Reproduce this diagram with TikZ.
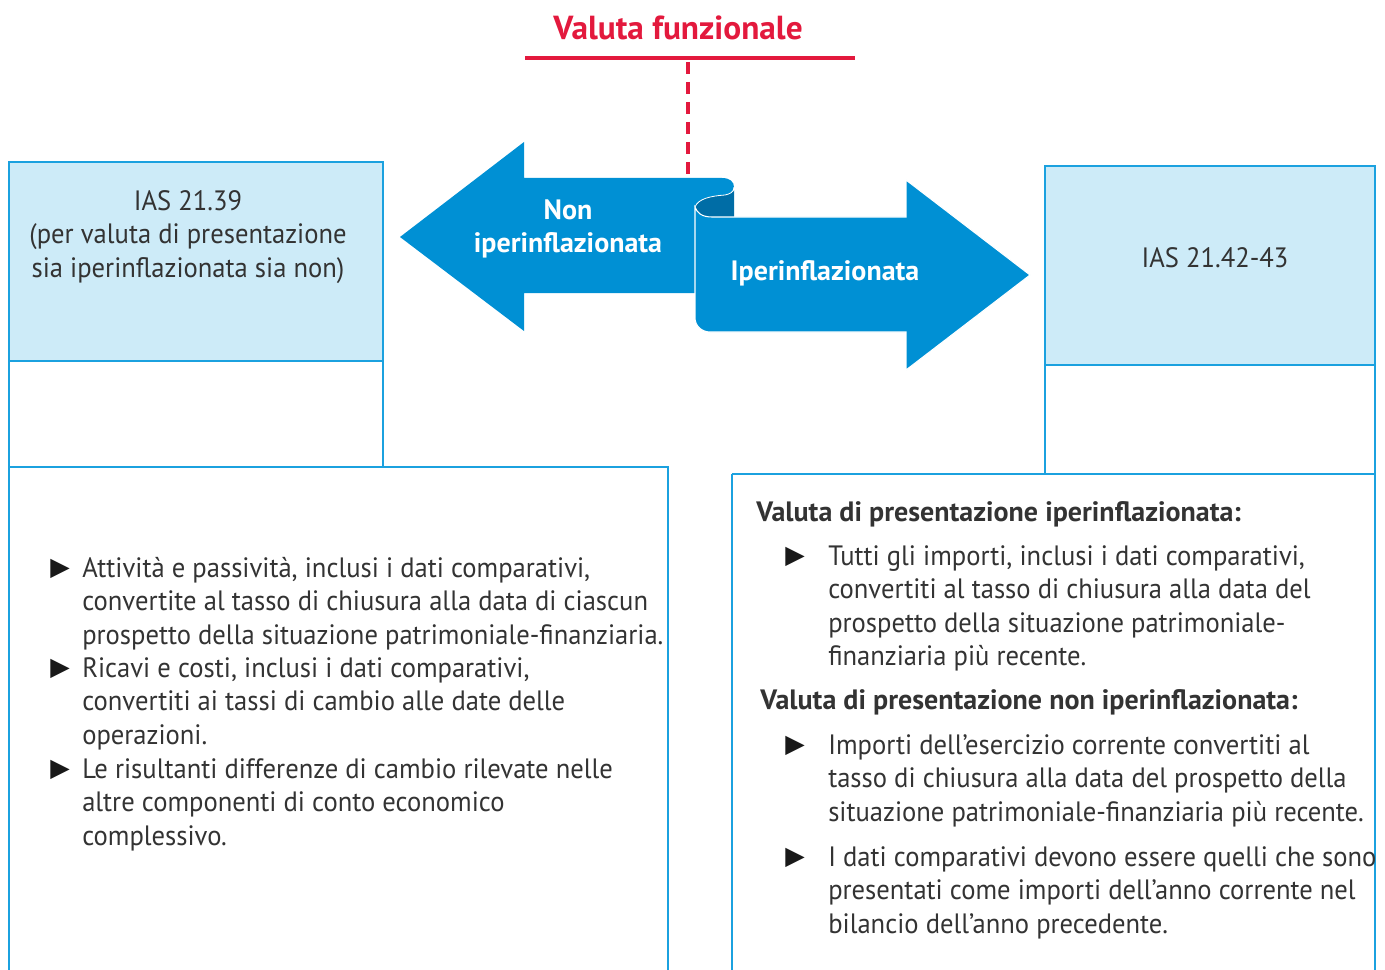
\documentclass[tikz,border=0pt]{standalone}
\usepackage{fontspec}
\setmainfont[FakeStretch=0.95, BoldFeatures={FakeStretch=1.0}]{PT Sans}
\newfontfamily\symfont{DejaVu Sans}
\usetikzlibrary{positioning}

\definecolor{arrowblue}{HTML}{0090D4}
\definecolor{curldark}{HTML}{006DA6}
\definecolor{boxblue}{HTML}{1BA1DF}
\definecolor{lightfill}{HTML}{CDEBF8}
\definecolor{titlered}{HTML}{E3193D}
\definecolor{ink}{HTML}{333333}

\tikzset{
  boxline/.style={draw=boxblue, line width=1.5pt},
  bodytext/.style={inner sep=0pt, text=ink, align=left, font=\fontsize{21}{25.1}\selectfont},
  headtext/.style={inner sep=0pt, text=ink, font=\fontsize{21}{25.1}\selectfont\bfseries},
  arrowtext/.style={inner sep=0pt, text=white, align=center, font=\fontsize{21}{25.1}\selectfont\bfseries},
  bullet/.style={inner sep=0pt, text=black!90, font=\symfont\fontsize{19}{19}\selectfont},
}

\begin{document}
\begin{tikzpicture}[x=0.75pt,y=-0.75pt]
    \useasboundingbox (0,0) rectangle (1385,970);

    % title and red rule
    \node[text=titlered, font=\fontsize{25}{30}\selectfont\bfseries] (title) at (678,28) {Valuta funzionale};
    \coordinate (ruleL) at (525,58);
    \coordinate (ruleR) at (855,58);
    \coordinate (ruleM) at (688,58);
    \coordinate (scroll) at (688,176);
    \draw[titlered, line width=3pt] (ruleL) -- (ruleR);
    \draw[titlered, line width=3pt, dash pattern=on 9pt off 6pt] ([yshift=-3pt]ruleM) -- (scroll);

    % left arrow
    \fill[arrowblue] (400,237) -- (524,142) -- (524,178) -- (722,178)
        .. controls (730,178) and (734,182) .. (734,187)
        .. controls (734,191) and (731,194) .. (725,195)
        .. controls (710,196) and (698,199) .. (695,207)
        -- (695,293) -- (524,293) -- (524,331) -- cycle;
    % inside of the curl
    \fill[curldark] (695,207) .. controls (698,199) and (710,196) .. (725,195)
        .. controls (730,194) and (734,192) .. (734,190) -- (734,217) -- (712,217)
        .. controls (702,217) and (697,213) .. (695,207) -- cycle;
    \draw[white, line width=0.6pt] (695,207) .. controls (698,199) and (710,196) .. (725,195)
        .. controls (730,194) and (734,192) .. (734,187);
    % right arrow
    \draw[white, line width=0.8pt, fill=arrowblue] (695,207)
        .. controls (697,213) and (702,217) .. (712,217) -- (906,217) -- (906,180)
        -- (1030,275) -- (906,370) -- (906,332) -- (710,332)
        .. controls (702,332) and (695,326) .. (695,318) -- cycle;

    \node[arrowtext] (nonip) at (568,229) {Non\\iperinflazionata};
    \node[arrowtext] (ip) at (825,273) {Iperinflazionata};

    % left boxes
    \draw[boxline, fill=lightfill] (9,162) rectangle (383,361);
    \draw[boxline] (9,361) -- (9,975);
    \draw[boxline] (383,361) -- (383,467);
    \draw[boxline] (9,467) -- (668,467) -- (668,975);
    \node[bodytext, align=center] (ias39) at (188,237)
        {IAS 21.39\\(per valuta di presentazione\\sia iperinflazionata sia non)};

    % right boxes
    \draw[boxline, fill=lightfill] (1045,166) rectangle (1375,365);
    \draw[boxline] (1045,365) -- (1045,474);
    \draw[boxline] (1375,365) -- (1375,975);
    \draw[boxline] (732,474) -- (1375,474);
    \draw[boxline] (732,474) -- (732,975);
    \node[bodytext] (ias42) at (1215,258) {IAS 21.42-43};

    % left list
    \node[bodytext, anchor=north west] (att) at (82,557)
        {Attività e passività, inclusi i dati comparativi,\\convertite al tasso di chiusura alla data di ciascun\\prospetto della situazione patrimoniale-finanziaria.};
    \node[bodytext, anchor=north west] (ric) at (82,657)
        {Ricavi e costi, inclusi i dati comparativi,\\convertiti ai tassi di cambio alle date delle\\operazioni.};
    \node[bodytext, anchor=north west] (ris) at (82,758)
        {Le risultanti differenze di cambio rilevate nelle\\altre componenti di conto economico\\complessivo.};
    \node[bullet] at (60,569) {▶};
    \node[bullet] at (60,669) {▶};
    \node[bullet] at (60,770) {▶};

    % right list
    \node[headtext, anchor=west] (hiper) at (756,514) {Valuta di presentazione iperinflazionata:};
    \node[bodytext, anchor=north west] (tutti) at (828,545)
        {Tutti gli importi, inclusi i dati comparativi,\\convertiti al tasso di chiusura alla data del\\prospetto della situazione patrimoniale-\\finanziaria più recente.};
    \node[headtext, anchor=west] (hnon) at (760,702) {Valuta di presentazione non iperinflazionata:};
    \node[bodytext, anchor=north west] (imp) at (828,734)
        {Importi dell'esercizio corrente convertiti al\\tasso di chiusura alla data del prospetto della\\situazione patrimoniale-finanziaria più recente.};
    \node[bodytext, anchor=north west] (dati) at (828,846)
        {I dati comparativi devono essere quelli che sono\\presentati come importi dell'anno corrente nel\\bilancio dell'anno precedente.};
    \node[bullet] at (795,557) {▶};
    \node[bullet] at (795,746) {▶};
    \node[bullet] at (795,858) {▶};
\end{tikzpicture}
\end{document}
